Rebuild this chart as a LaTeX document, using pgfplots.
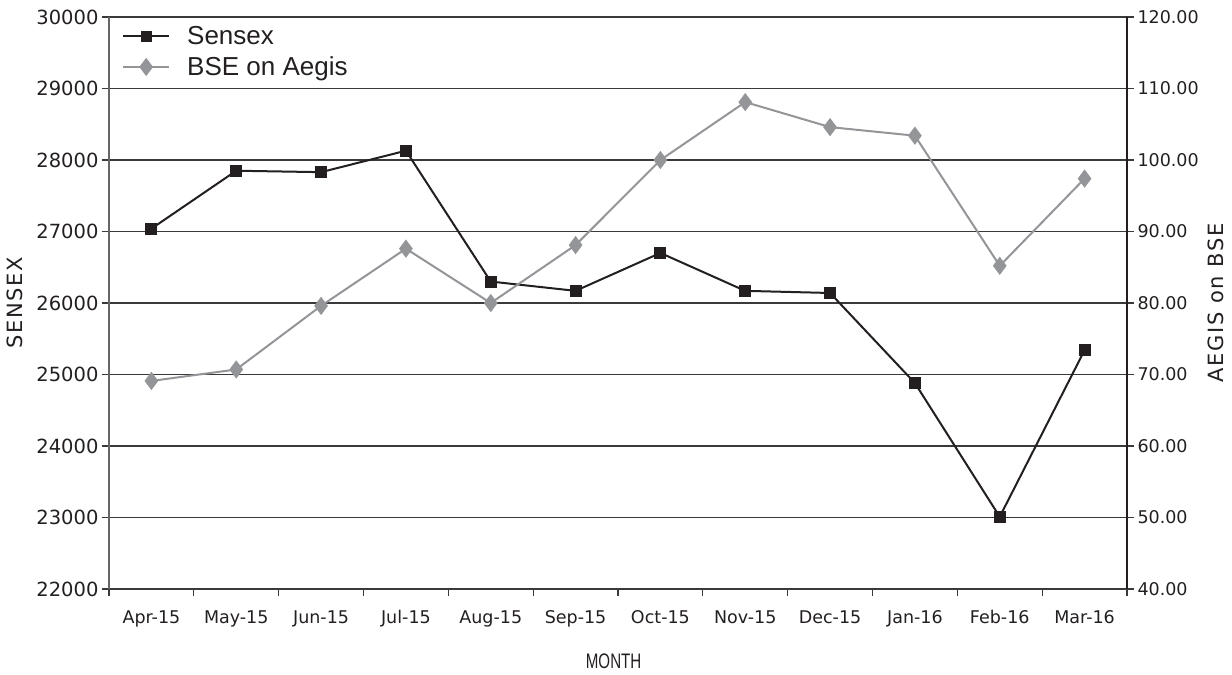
\documentclass[border=0pt]{standalone}
\usepackage{fontspec}
\setmainfont{DejaVu Sans}
\newfontfamily\legfont{Liberation Sans}
\newfontfamily\spaced[LetterSpace=8]{DejaVu Sans}
\usepackage{graphicx}
\usepackage{pgfplots}
\pgfplotsset{compat=1.18}
\definecolor{sx}{HTML}{231F20}
\definecolor{ag}{HTML}{939598}
\definecolor{gridc}{HTML}{3A3A3A}
\definecolor{txt}{HTML}{231F20}
\pgfplotsset{
  common/.style={
    scale only axis, width=1018bp, height=572bp,
    at={(0,0)}, anchor=south west,
    xmin=-0.5, xmax=11.5,
    tick align=outside,
    major tick length=7bp,
    /pgf/number format/assume math mode=true,
    ticklabel style={text=txt},
    every tick/.style={gridc, line width=1.2bp},
  }
}
\begin{document}
\begin{tikzpicture}
\path[use as bounding box] (-109bp,-86bp) rectangle (1123bp,589bp);
\begin{axis}[common,
  ymin=22000, ymax=30000, ytick={22000,23000,...,30000},
  scaled y ticks=false,
  yticklabel style={/pgf/number format/fixed, /pgf/number format/set thousands separator={}, font=\fontsize{19.5bp}{21bp}\selectfont},
  axis x line*=bottom, axis y line*=left,
  x axis line style={gridc, line width=1.3bp},
  y axis line style={black!60, line width=1.6bp},
  xtick={-0.5,0.5,...,11.5},
  xticklabels={Apr-15,May-15,Jun-15,Jul-15,Aug-15,Sep-15,Oct-15,Nov-15,Dec-15,Jan-16,Feb-16,Mar-16,{}},
  xticklabel style={xshift=42.42bp, yshift=-11bp, font=\fontsize{17.5bp}{19bp}\selectfont},
  ymajorgrids, grid style={gridc, line width=1.3bp},
  ylabel={\spaced SENSEX},
  ylabel style={at={(axis description cs:-0.0923,0.5)}, anchor=center, font=\fontsize{21bp}{23bp}\selectfont, text=txt},
  xlabel={\scalebox{0.72}[1]{MONTH}},
  xlabel style={at={(axis description cs:0.4957,-0.127)}, anchor=center, font=\legfont\fontsize{21bp}{23bp}\selectfont, text=txt},
]
\addplot[sx, line width=2bp, mark=square*, mark size=5bp, mark options={solid}] coordinates {
(0,27040) (1,27850) (2,27830) (3,28130) (4,26300) (5,26170)
(6,26700) (7,26170) (8,26140) (9,24880) (10,23010) (11,25340)};
\end{axis}
\begin{axis}[common,
  ymin=40, ymax=120, ytick={40,50,...,120},
  axis y line*=right, axis x line=none, xtick=\empty,
  y axis line style={sx, line width=1.4bp},
  yticklabel style={/pgf/number format/fixed, /pgf/number format/fixed zerofill, /pgf/number format/precision=2, font=\fontsize{17.5bp}{19bp}\selectfont},
  ylabel={\spaced AEGIS on BSE},
  ylabel style={at={(axis description cs:1.0874,0.5)}, anchor=center, rotate=0, font=\fontsize{21bp}{23bp}\selectfont, text=txt},
  legend style={draw=none, fill=none, at={(axis description cs:0,1)}, anchor=north west, xshift=10bp, yshift=-5bp,
    font=\legfont\fontsize{26bp}{30bp}\selectfont, row sep=7bp, text=txt,
    nodes={inner xsep=8bp},
    /tikz/every odd column/.append style={column sep=9bp}},
  legend cell align=left,
  legend image code/.code={\draw[mark repeat=2, mark phase=2, #1] plot coordinates {(0bp,0bp) (23bp,0bp) (46bp,0bp)};},
]
\addlegendimage{sx, line width=2bp, mark=square*, mark size=4.5bp, mark options={solid}}
\addlegendentry{Sensex}
\addplot[ag, line width=2bp, mark=diamond*, mark size=7.5bp, mark options={solid}] coordinates {
(0,69.1) (1,70.7) (2,79.6) (3,87.6) (4,80.0) (5,88.1)
(6,100.0) (7,108.1) (8,104.6) (9,103.4) (10,85.2) (11,97.4)};
\addlegendentry{BSE on Aegis}
\end{axis}
\end{tikzpicture}
\end{document}
